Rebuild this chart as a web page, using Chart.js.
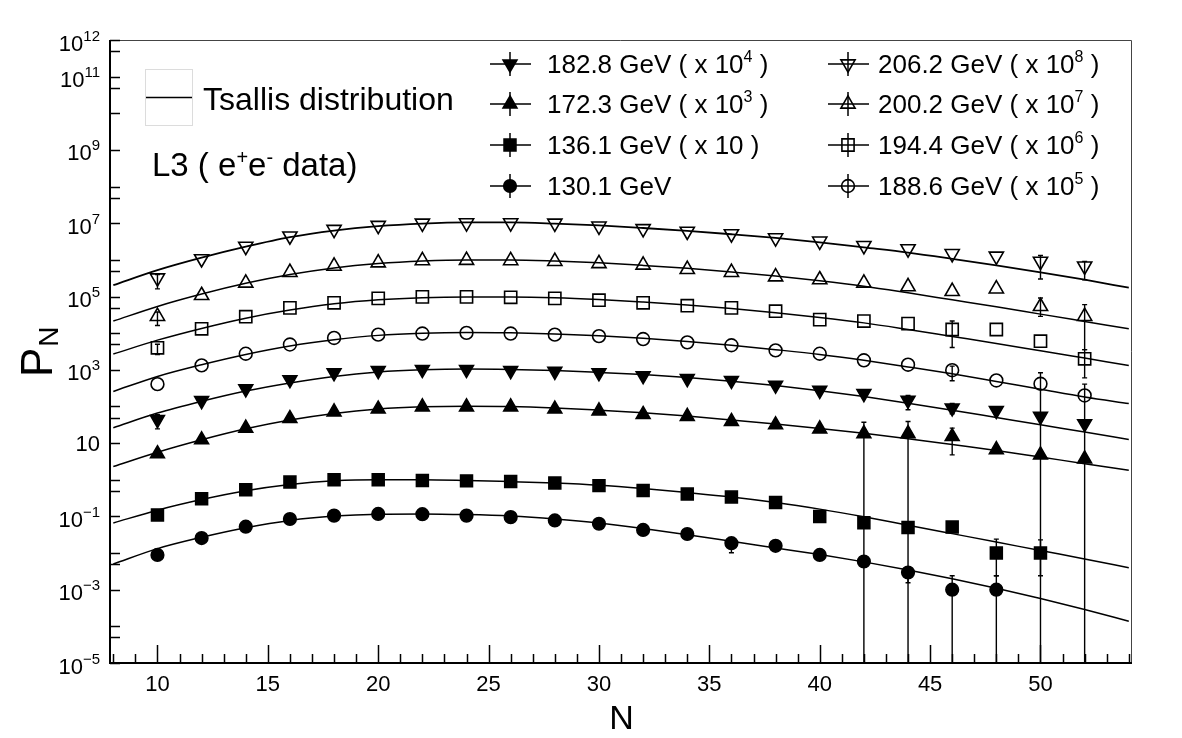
<!DOCTYPE html>
<html>
<head>
<meta charset="utf-8">
<title>P_N vs N - L3 e+e- data with Tsallis fits</title>
<script src="https://cdn.jsdelivr.net/npm/chart.js@4.4.1/dist/chart.umd.min.js"></script>
<style>
  html, body { margin: 0; padding: 0; background: #fff; }
  #wrap { width: 1182px; height: 738px; }
</style>
</head>
<body>
<div id="wrap"><canvas id="pn" width="1182" height="738"></canvas></div>
<script>
const nData = [10, 12, 14, 16, 18, 20, 22, 24, 26, 28, 30, 32, 34, 36, 38, 40, 42, 44, 46, 48, 50, 52];
const nFit = [8, 10, 12, 14, 16, 18, 20, 22, 24, 26, 28, 30, 32, 34, 36, 38, 40, 42, 44, 46, 48, 50, 52, 54];

// energies (GeV) and the power of ten each set is multiplied by
const energies = ["206.2", "200.2", "194.4", "188.6", "182.8", "172.3", "136.1", "130.1"];
const scaleExp = [8, 7, 6, 5, 4, 3, 1, 0];

// measured P_N (unscaled)
const p206 = [3.2e-3, 1.07e-2, 2.34e-2, 4.47e-2, 6.76e-2, 8.71e-2, 0.100, 0.102, 0.102, 0.100, 8.32e-2,
              7.08e-2, 6.03e-2, 5.13e-2, 3.98e-2, 3.24e-2, 2.45e-2, 2.0e-2, 1.48e-2, 1.26e-2, 9.12e-3, 6.76e-3];
const p200 = [2.88e-3, 1.07e-2, 2.34e-2, 4.57e-2, 6.76e-2, 8.32e-2, 9.55e-2, 9.77e-2, 9.55e-2, 9.12e-2, 7.94e-2,
              7.24e-2, 5.50e-2, 4.57e-2, 3.47e-2, 2.88e-2, 2.34e-2, 1.86e-2, 1.38e-2, 1.62e-2, 5.37e-3, 2.88e-3];
const p194 = [3.98e-3, 1.32e-2, 2.82e-2, 4.90e-2, 6.76e-2, 8.91e-2, 9.77e-2, 9.77e-2, 9.55e-2, 8.91e-2, 7.94e-2,
              6.76e-2, 5.62e-2, 4.90e-2, 3.98e-2, 2.34e-2, 2.14e-2, 1.82e-2, 1.26e-2, 1.26e-2, 6.03e-3, 2.0e-3];
const p189 = [4.07e-3, 1.32e-2, 2.75e-2, 4.90e-2, 7.41e-2, 9.12e-2, 9.77e-2, 0.102, 9.77e-2, 9.12e-2, 8.32e-2,
              6.92e-2, 5.62e-2, 4.68e-2, 3.39e-2, 2.75e-2, 1.82e-2, 1.38e-2, 9.77e-3, 5.13e-3, 4.17e-3, 2.0e-3];
const p183 = [4.37e-3, 1.45e-2, 3.02e-2, 5.37e-2, 8.32e-2, 9.55e-2, 0.102, 0.102, 9.55e-2, 9.12e-2, 8.32e-2,
              6.92e-2, 5.75e-2, 5.13e-2, 3.80e-2, 2.75e-2, 2.24e-2, 1.48e-2, 9.12e-3, 7.76e-3, 5.37e-3, 3.39e-3];
const p172 = [5.13e-3, 1.23e-2, 2.57e-2, 4.68e-2, 7.08e-2, 8.51e-2, 9.77e-2, 9.77e-2, 9.77e-2, 8.51e-2, 7.59e-2,
              6.03e-2, 5.37e-2, 3.89e-2, 3.16e-2, 2.45e-2, 1.82e-2, 1.82e-2, 1.51e-2, 6.61e-3, 4.79e-3, 3.72e-3];
const p136 = [1.10e-2, 3.02e-2, 5.37e-2, 8.71e-2, 0.100, 0.100, 9.55e-2, 9.33e-2, 8.91e-2, 8.13e-2, 6.92e-2,
              5.13e-2, 4.07e-2, 3.39e-2, 2.40e-2, 1.0e-2, 6.76e-3, 5.01e-3, 5.13e-3, 1.0e-3, 1.0e-3, null];
const p130 = [8.91e-3, 2.57e-2, 5.25e-2, 8.51e-2, 0.105, 0.117, 0.115, 0.105, 9.55e-2, 7.76e-2, 6.31e-2,
              4.27e-2, 3.31e-2, 1.86e-2, 1.58e-2, 8.91e-3, 5.89e-3, 2.95e-3, 1.0e-3, 1.0e-3, null, null];

// Tsallis curves at nFit (unscaled)
const fit206 = [2.04e-3, 5.25e-3, 1.15e-2, 2.29e-2, 4.17e-2, 6.31e-2, 8.32e-2, 9.77e-2, 0.105, 0.105, 9.77e-2, 8.71e-2,
                7.41e-2, 6.17e-2, 5.01e-2, 3.98e-2, 3.02e-2, 2.19e-2, 1.58e-2, 1.07e-2, 7.08e-3, 4.57e-3, 2.88e-3, 1.74e-3];
const fit200 = [2.14e-3, 5.37e-3, 1.17e-2, 2.29e-2, 3.98e-2, 6.03e-2, 7.94e-2, 9.33e-2, 0.100, 0.100, 9.33e-2, 8.32e-2,
                7.08e-2, 5.89e-2, 4.68e-2, 3.63e-2, 2.69e-2, 1.91e-2, 1.26e-2, 8.13e-3, 5.25e-3, 3.31e-3, 2.09e-3, 1.32e-3];
const fit194 = [2.69e-3, 6.46e-3, 1.35e-2, 2.57e-2, 4.27e-2, 6.31e-2, 8.13e-2, 9.33e-2, 9.77e-2, 9.77e-2, 9.33e-2, 8.32e-2,
                7.08e-2, 5.89e-2, 4.68e-2, 3.63e-2, 2.69e-2, 1.91e-2, 1.26e-2, 8.13e-3, 5.25e-3, 3.31e-3, 2.09e-3, 1.32e-3];
const fit189 = [2.57e-3, 6.61e-3, 1.38e-2, 2.63e-2, 4.47e-2, 6.61e-2, 8.71e-2, 0.100, 0.105, 0.102, 9.55e-2, 8.51e-2,
                7.24e-2, 5.89e-2, 4.68e-2, 3.55e-2, 2.63e-2, 1.82e-2, 1.20e-2, 7.76e-3, 4.79e-3, 2.95e-3, 1.82e-3, 1.20e-3];
const fit183 = [2.63e-3, 6.61e-3, 1.38e-2, 2.63e-2, 4.37e-2, 6.61e-2, 8.71e-2, 0.100, 0.105, 0.102, 9.55e-2, 8.51e-2,
                7.41e-2, 6.17e-2, 4.90e-2, 3.72e-2, 2.69e-2, 1.86e-2, 1.23e-2, 7.94e-3, 5.01e-3, 3.16e-3, 2.0e-3, 1.26e-3];
const fit172 = [2.29e-3, 5.62e-3, 1.23e-2, 2.45e-2, 4.27e-2, 6.46e-2, 8.51e-2, 9.77e-2, 0.102, 0.100, 9.12e-2, 7.94e-2,
                6.76e-2, 5.50e-2, 4.27e-2, 3.31e-2, 2.51e-2, 1.86e-2, 1.32e-2, 9.12e-3, 6.31e-3, 4.17e-3, 2.75e-3, 1.82e-3];
const fit136 = [6.61e-3, 1.48e-2, 2.88e-2, 5.01e-2, 7.41e-2, 9.33e-2, 0.100, 0.100, 9.55e-2, 8.91e-2, 8.13e-2, 7.08e-2,
                5.75e-2, 4.47e-2, 3.39e-2, 2.40e-2, 1.58e-2, 9.77e-3, 5.75e-3, 3.39e-3, 2.0e-3, 1.17e-3, 6.92e-4, 3.98e-4];
const fit130 = [5.01e-3, 1.32e-2, 2.69e-2, 4.90e-2, 7.76e-2, 0.102, 0.115, 0.117, 0.112, 0.102, 8.51e-2, 6.61e-2,
                4.68e-2, 3.16e-2, 2.09e-2, 1.38e-2, 9.12e-3, 5.75e-3, 3.47e-3, 2.0e-3, 1.10e-3, 5.75e-4, 2.88e-4, 1.38e-4];

// error bars [N, low, high] (unscaled); low 0 = runs off the bottom of the plot
const err206 = [[10, 1.62e-3, 4.0e-3], [50, 3.02e-3, 1.32e-2], [52, 2.88e-3, 9.12e-3]];
const err200 = [[10, 1.62e-3, 3.8e-3], [50, 2.88e-3, 9.12e-3], [52, 3.55e-4, 6.03e-3]];
const err194 = [[10, 2.63e-3, 5.0e-3], [46, 4.07e-3, 2.14e-2], [52, 6.03e-4, 3.55e-3]];
const err189 = [[46, 5.01e-3, 1.26e-2], [50, 0, 8.32e-3], [52, 0, 4.07e-3]];
const err183 = [[10, 2.45e-3, 6.0e-3], [44, 8.13e-3, 2.0e-2], [46, 6.31e-3, 1.2e-2]];
const err172 = [[42, 0, 3.72e-2], [44, 0, 3.89e-2], [46, 4.79e-3, 2.57e-2]];
const err136 = [[48, 2.40e-4, 2.40e-3], [50, 2.40e-4, 2.29e-3]];
const err130 = [[36, 1.02e-2, 2.5e-2], [44, 1.55e-3, 3.47e-3], [46, 0, 2.40e-3], [48, 0, 2.40e-3]];

// y axis: labelled decades and the extra short ticks
const yLabelExp = [12, 11, 9, 7, 5, 3, 1, -1, -3, -5];
const yFiveExp = [-5, -3, -1, 1, 3, 4, 5, 7, 10, 11];
const xLabels = [10, 15, 20, 25, 30, 35, 40, 45, 50];

const measured = [p206, p200, p194, p189, p183, p172, p136, p130];
const fits = [fit206, fit200, fit194, fit189, fit183, fit172, fit136, fit130];
const errs = [err206, err200, err194, err189, err183, err172, err136, err130];

// marker look for each energy
const markers = [
  { shape: 'triangle', rot: 180, r: 8.2, filled: false },
  { shape: 'triangle', rot: 0, r: 8.2, filled: false },
  { shape: 'rect', rot: 0, r: 8.6, filled: false },
  { shape: 'circle', rot: 0, r: 6.4, filled: false },
  { shape: 'triangle', rot: 180, r: 8, filled: true },
  { shape: 'triangle', rot: 0, r: 8, filled: true },
  { shape: 'rect', rot: 0, r: 8.4, filled: true },
  { shape: 'circle', rot: 0, r: 6.3, filled: true }
];

const FONT = "'Liberation Sans', Arial, Helvetica, sans-serif";

const datasets = [];
energies.forEach((e, i) => {
  const f = Math.pow(10, scaleExp[i]);
  datasets.push({
    label: e + ' GeV fit',
    data: nFit.map((n, k) => ({ x: n, y: fits[i][k] * f })),
    showLine: true,
    borderColor: '#000',
    borderWidth: i === 0 ? 1.8 : 1.5,
    pointRadius: 0,
    tension: 0.4,
    cubicInterpolationMode: 'monotone',
    fill: false
  });
});
energies.forEach((e, i) => {
  const f = Math.pow(10, scaleExp[i]);
  const m = markers[i];
  datasets.push({
    label: e + ' GeV',
    data: nData.map((n, k) => ({ x: n, y: measured[i][k] == null ? null : measured[i][k] * f }))
               .filter(p => p.y != null),
    showLine: false,
    pointStyle: m.shape,
    rotation: m.rot,
    pointRadius: m.r,
    pointBorderWidth: 1.6,
    pointBorderColor: '#000',
    pointBackgroundColor: m.filled ? '#000' : 'rgba(0,0,0,0)',
    errs: errs[i],
    factor: f
  });
});

function drawMarker(ctx, m, x, y) {
  ctx.save();
  ctx.strokeStyle = '#000';
  ctx.fillStyle = m.filled ? '#000' : 'rgba(0,0,0,0)';
  ctx.lineWidth = 1.6;
  Chart.helpers.drawPoint(ctx, { pointStyle: m.shape, rotation: m.rot, radius: m.r, borderWidth: 1.6 }, x, y);
  ctx.restore();
}

// text pieces: [text, isSuperscript]
function drawPieces(ctx, pieces, x, y, size, supSize, supRise, align) {
  const widths = pieces.map(p => {
    ctx.font = (p[1] ? supSize : size) + 'px ' + FONT;
    return ctx.measureText(p[0]).width;
  });
  const total = widths.reduce((a, b) => a + b, 0);
  let cx = align === 'right' ? x - total : x;
  ctx.textAlign = 'left';
  ctx.textBaseline = 'alphabetic';
  pieces.forEach((p, k) => {
    ctx.font = (p[1] ? supSize : size) + 'px ' + FONT;
    ctx.fillText(p[0], cx, p[1] ? y - supRise : y);
    cx += widths[k];
  });
}

function legendPieces(i) {
  const base = energies[i] + ' GeV';
  if (scaleExp[i] === 0) return [[base, false]];
  if (scaleExp[i] === 1) return [[base + ' ( x 10 )', false]];
  return [[base + ' ( x 10', false], [String(scaleExp[i]), true], [' )', false]];
}

const decor = {
  id: 'decor',
  beforeDatasetsDraw(chart) {
    const { ctx, chartArea: a, scales: { x, y } } = chart;
    ctx.save();
    ctx.beginPath();
    ctx.rect(a.left, a.top, a.right - a.left, a.bottom - a.top);
    ctx.clip();
    ctx.strokeStyle = '#000';
    ctx.lineWidth = 1.4;
    chart.data.datasets.forEach(ds => {
      if (!ds.errs) return;
      ds.errs.forEach(([n, lo, hi]) => {
        const px = x.getPixelForValue(n);
        const top = y.getPixelForValue(hi * ds.factor);
        const bot = lo > 0 ? y.getPixelForValue(lo * ds.factor) : a.bottom;
        ctx.beginPath();
        ctx.moveTo(px, top);
        ctx.lineTo(px, bot);
        ctx.moveTo(px - 2.5, top);
        ctx.lineTo(px + 2.5, top);
        if (lo > 0) {
          ctx.moveTo(px - 2.5, bot);
          ctx.lineTo(px + 2.5, bot);
        }
        ctx.stroke();
      });
    });
    ctx.restore();
  },
  afterDraw(chart) {
    const { ctx, chartArea: a, scales: { x, y } } = chart;
    ctx.save();
    ctx.fillStyle = '#000';
    ctx.strokeStyle = '#000';

    // frame
    ctx.lineWidth = 1;
    ctx.strokeStyle = '#444';
    ctx.beginPath();
    ctx.moveTo(a.left, a.top + 0.5);
    ctx.lineTo(a.right + 0.5, a.top + 0.5);
    ctx.lineTo(a.right + 0.5, a.bottom);
    ctx.stroke();
    ctx.strokeStyle = '#000';
    ctx.lineWidth = 2;
    ctx.beginPath();
    ctx.moveTo(a.left, a.top);
    ctx.lineTo(a.left, a.bottom);
    ctx.lineTo(a.right + 1, a.bottom);
    ctx.stroke();

    // x ticks, pointing inwards
    ctx.lineWidth = 1.5;
    ctx.beginPath();
    for (let n = 8; n <= 54; n++) {
      const px = Math.round(x.getPixelForValue(n)) + 0.5;
      const len = n % 5 === 0 ? 18 : 9;
      ctx.moveTo(px, a.bottom);
      ctx.lineTo(px, a.bottom - len);
    }
    // y ticks
    for (let e = -5; e <= 12; e++) {
      const py = Math.round(y.getPixelForValue(Math.pow(10, e))) + 0.5;
      ctx.moveTo(a.left, py);
      ctx.lineTo(a.left + 10, py);
    }
    yFiveExp.forEach(e => {
      const py = Math.round(y.getPixelForValue(5 * Math.pow(10, e))) + 0.5;
      ctx.moveTo(a.left, py);
      ctx.lineTo(a.left + 10, py);
    });
    ctx.stroke();

    // x tick labels
    ctx.font = '22px ' + FONT;
    ctx.textAlign = 'center';
    ctx.textBaseline = 'alphabetic';
    xLabels.forEach(n => ctx.fillText(String(n), x.getPixelForValue(n), 691));

    // y tick labels with exponents
    yLabelExp.forEach(e => {
      const py = y.getPixelForValue(Math.pow(10, e));
      if (e === 1) {
        drawPieces(ctx, [['10', false]], 100, py + 7.5, 22, 15, 10, 'right');
      } else {
        const ex = e < 0 ? '\u2212' + (-e) : String(e);
        drawPieces(ctx, [['10', false], [ex, true]], 100, py + 10.5, 22, 15, 10, 'right');
      }
    });

    // axis titles
    ctx.font = '34px ' + FONT;
    ctx.textAlign = 'center';
    ctx.fillText('N', (a.left + a.right) / 2 + 1, 729);
    ctx.save();
    ctx.translate(52, 377);
    ctx.rotate(-Math.PI / 2);
    ctx.textAlign = 'left';
    ctx.font = '44px ' + FONT;
    ctx.fillText('P', 0, 0);
    const pw = ctx.measureText('P').width;
    ctx.font = '28px ' + FONT;
    ctx.fillText('N', pw + 1, 6);
    ctx.restore();

    // fit legend box
    ctx.strokeStyle = '#dcdcdc';
    ctx.lineWidth = 1;
    ctx.strokeRect(145.5, 69.5, 47, 56);
    ctx.strokeStyle = '#000';
    ctx.lineWidth = 1.5;
    ctx.beginPath();
    ctx.moveTo(146, 97.5);
    ctx.lineTo(192, 97.5);
    ctx.stroke();
    drawPieces(ctx, [['Tsallis distribution', false]], 203, 110, 32, 20, 0, 'left');
    drawPieces(ctx, [['L3 ( e', false], ['+', true], ['e', false], ['-', true], [' data)', false]],
               152, 176, 33, 20, 12, 'left');

    // data legend, two columns
    const rows = [64, 104, 145, 186];
    const cols = [
      { mx: 510, tx: 547, idx: [4, 5, 6, 7] },
      { mx: 848, tx: 878, idx: [0, 1, 2, 3] }
    ];
    cols.forEach(c => {
      c.idx.forEach((i, r) => {
        const cy = rows[r];
        ctx.strokeStyle = '#000';
        ctx.lineWidth = 1.5;
        ctx.beginPath();
        ctx.moveTo(c.mx - 20, cy);
        ctx.lineTo(c.mx + 21, cy);
        ctx.moveTo(c.mx, cy - 12);
        ctx.lineTo(c.mx, cy + 12);
        ctx.stroke();
        drawMarker(ctx, markers[i], c.mx, cy);
        ctx.fillStyle = '#000';
        drawPieces(ctx, legendPieces(i), c.tx, cy + 9, 26, 16, 11, 'left');
      });
    });
    ctx.restore();
  }
};

new Chart(document.getElementById('pn'), {
  type: 'scatter',
  data: { datasets },
  options: {
    responsive: false,
    devicePixelRatio: 1,
    animation: false,
    events: [],
    layout: { padding: { top: 40, right: 51, bottom: 0, left: 0 } },
    plugins: { legend: { display: false }, tooltip: { enabled: false } },
    scales: {
      x: {
        type: 'linear',
        min: 7.85,
        max: 54.1,
        grid: { display: false },
        border: { display: false },
        ticks: { display: false },
        afterFit: s => { s.height = 75; }
      },
      y: {
        type: 'logarithmic',
        min: 1e-5,
        max: 1e12,
        grid: { display: false },
        border: { display: false },
        ticks: { display: false },
        afterFit: s => { s.width = 110; }
      }
    }
  },
  plugins: [decor]
});
</script>
</body>
</html>
